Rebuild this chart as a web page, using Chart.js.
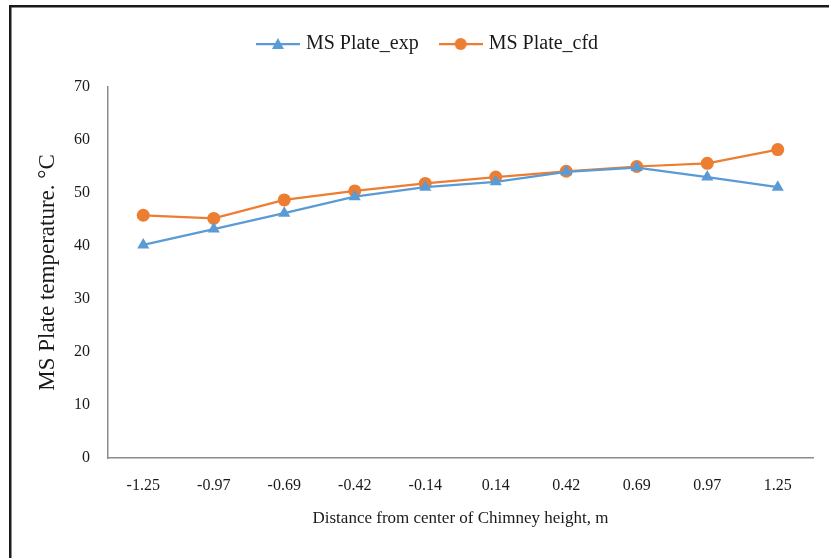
<!DOCTYPE html>
<html>
<head>
<meta charset="utf-8">
<script src="https://cdn.jsdelivr.net/npm/chart.js@4.4.1/dist/chart.umd.min.js"></script>
<style>
  html, body { margin: 0; padding: 0; background: #fff; }
  #wrap { position: relative; width: 829px; height: 558px; }
</style>
</head>
<body>
<div id="wrap"><canvas id="chart" width="829" height="558"></canvas></div>
<script>
const distances = ['-1.25', '-0.97', '-0.69', '-0.42', '-0.14', '0.14', '0.42', '0.69', '0.97', '1.25'];
const plateExp = [40.2, 43.2, 46.2, 49.3, 51.1, 52.1, 54.0, 54.8, 53.0, 51.1];
const plateCfd = [45.8, 45.2, 48.7, 50.4, 51.8, 53.0, 54.1, 55.0, 55.6, 58.2];
const yTicks = [0, 10, 20, 30, 40, 50, 60, 70];

const BLUE = '#5B9BD5';
const ORANGE = '#ED7D31';
const TEXT = '#1a1a1a';
const FONT = "'Liberation Serif', 'Times New Roman', serif";

// legend sample: short line with the marker in the middle
function legendSample(color, style) {
  const c = document.createElement('canvas');
  c.width = 44; c.height = 16;
  const ctx = c.getContext('2d');
  ctx.strokeStyle = color;
  ctx.lineWidth = 2.25;
  ctx.beginPath();
  ctx.moveTo(0, 8); ctx.lineTo(44, 8);
  ctx.stroke();
  ctx.fillStyle = color;
  ctx.beginPath();
  if (style === 'triangle') {
    ctx.moveTo(22, 2); ctx.lineTo(28, 13); ctx.lineTo(16, 13);
  } else {
    ctx.arc(22, 8, 6, 0, Math.PI * 2);
  }
  ctx.fill();
  return c;
}

const framePlugin = {
  id: 'frame',
  afterInit(chart) {
    // leave extra room between the legend and the plot
    const lg = chart.legend;
    const fit = lg.fit;
    lg.fit = function () {
      fit.call(this);
      if (this.isHorizontal()) this.height += 23;
    };
  },
  beforeDraw(chart) {
    const ctx = chart.ctx;
    ctx.save();
    ctx.fillStyle = '#fff';
    ctx.fillRect(0, 0, chart.width, chart.height);
    ctx.fillStyle = '#1a1a1a';
    ctx.fillRect(9, 5, 2.5, chart.height - 5);
    ctx.fillRect(9, 5, chart.width - 9, 2.5);
    ctx.restore();
  }
};

new Chart(document.getElementById('chart'), {
  type: 'line',
  data: {
    labels: distances,
    datasets: [
      {
        label: 'MS Plate_exp',
        data: plateExp,
        borderColor: BLUE,
        backgroundColor: BLUE,
        borderWidth: 2.25,
        pointStyle: 'triangle',
        pointRadius: 7,
        pointBorderWidth: 0,
        tension: 0
      },
      {
        label: 'MS Plate_cfd',
        data: plateCfd,
        borderColor: ORANGE,
        backgroundColor: ORANGE,
        borderWidth: 2.25,
        pointStyle: 'circle',
        pointRadius: 6.5,
        pointBorderWidth: 0,
        tension: 0
      }
    ]
  },
  options: {
    responsive: false,
    animation: false,
    layout: { padding: { left: 45, right: 16, top: 10, bottom: 20 } },
    plugins: {
      legend: {
        position: 'top',
        labels: {
          color: TEXT,
          font: { family: FONT, size: 20 },
          usePointStyle: true,
          pointStyleWidth: 36,
          padding: 24,
          generateLabels(chart) {
            return chart.data.datasets.map((ds, i) => ({
              text: ds.label,
              fillStyle: ds.borderColor,
              strokeStyle: ds.borderColor,
              pointStyle: legendSample(ds.borderColor, ds.pointStyle),
              fontColor: TEXT,
              datasetIndex: i,
              hidden: false
            }));
          }
        }
      },
      tooltip: { enabled: false }
    },
    scales: {
      x: {
        offset: true,
        afterFit(scale) { scale.height = 80; },
        grid: { display: false, drawTicks: false },
        border: { display: true, color: '#8c8c8c', width: 1.5 },
        ticks: {
          color: TEXT,
          font: { family: FONT, size: 16 },
          padding: 18,
          maxRotation: 0,
          autoSkip: false
        },
        title: {
          display: true,
          text: 'Distance from center of Chimney height, m',
          color: TEXT,
          font: { family: FONT, size: 17 },
          padding: { top: 0, bottom: 9 }
        }
      },
      y: {
        min: 0,
        max: 70,
        afterBuildTicks(scale) {
          scale.ticks = yTicks.map(v => ({ value: v }));
        },
        afterFit(scale) { scale.width = 63; },
        grid: { display: false, drawTicks: false },
        border: { display: true, color: '#8c8c8c', width: 1.5 },
        ticks: {
          color: TEXT,
          font: { family: FONT, size: 16 },
          padding: 18
        },
        title: {
          display: true,
          text: 'MS Plate temperature. °C',
          color: TEXT,
          font: { family: FONT, size: 23 },
          padding: { top: -11, bottom: 0 }
        }
      }
    }
  },
  plugins: [framePlugin]
});
</script>
</body>
</html>
